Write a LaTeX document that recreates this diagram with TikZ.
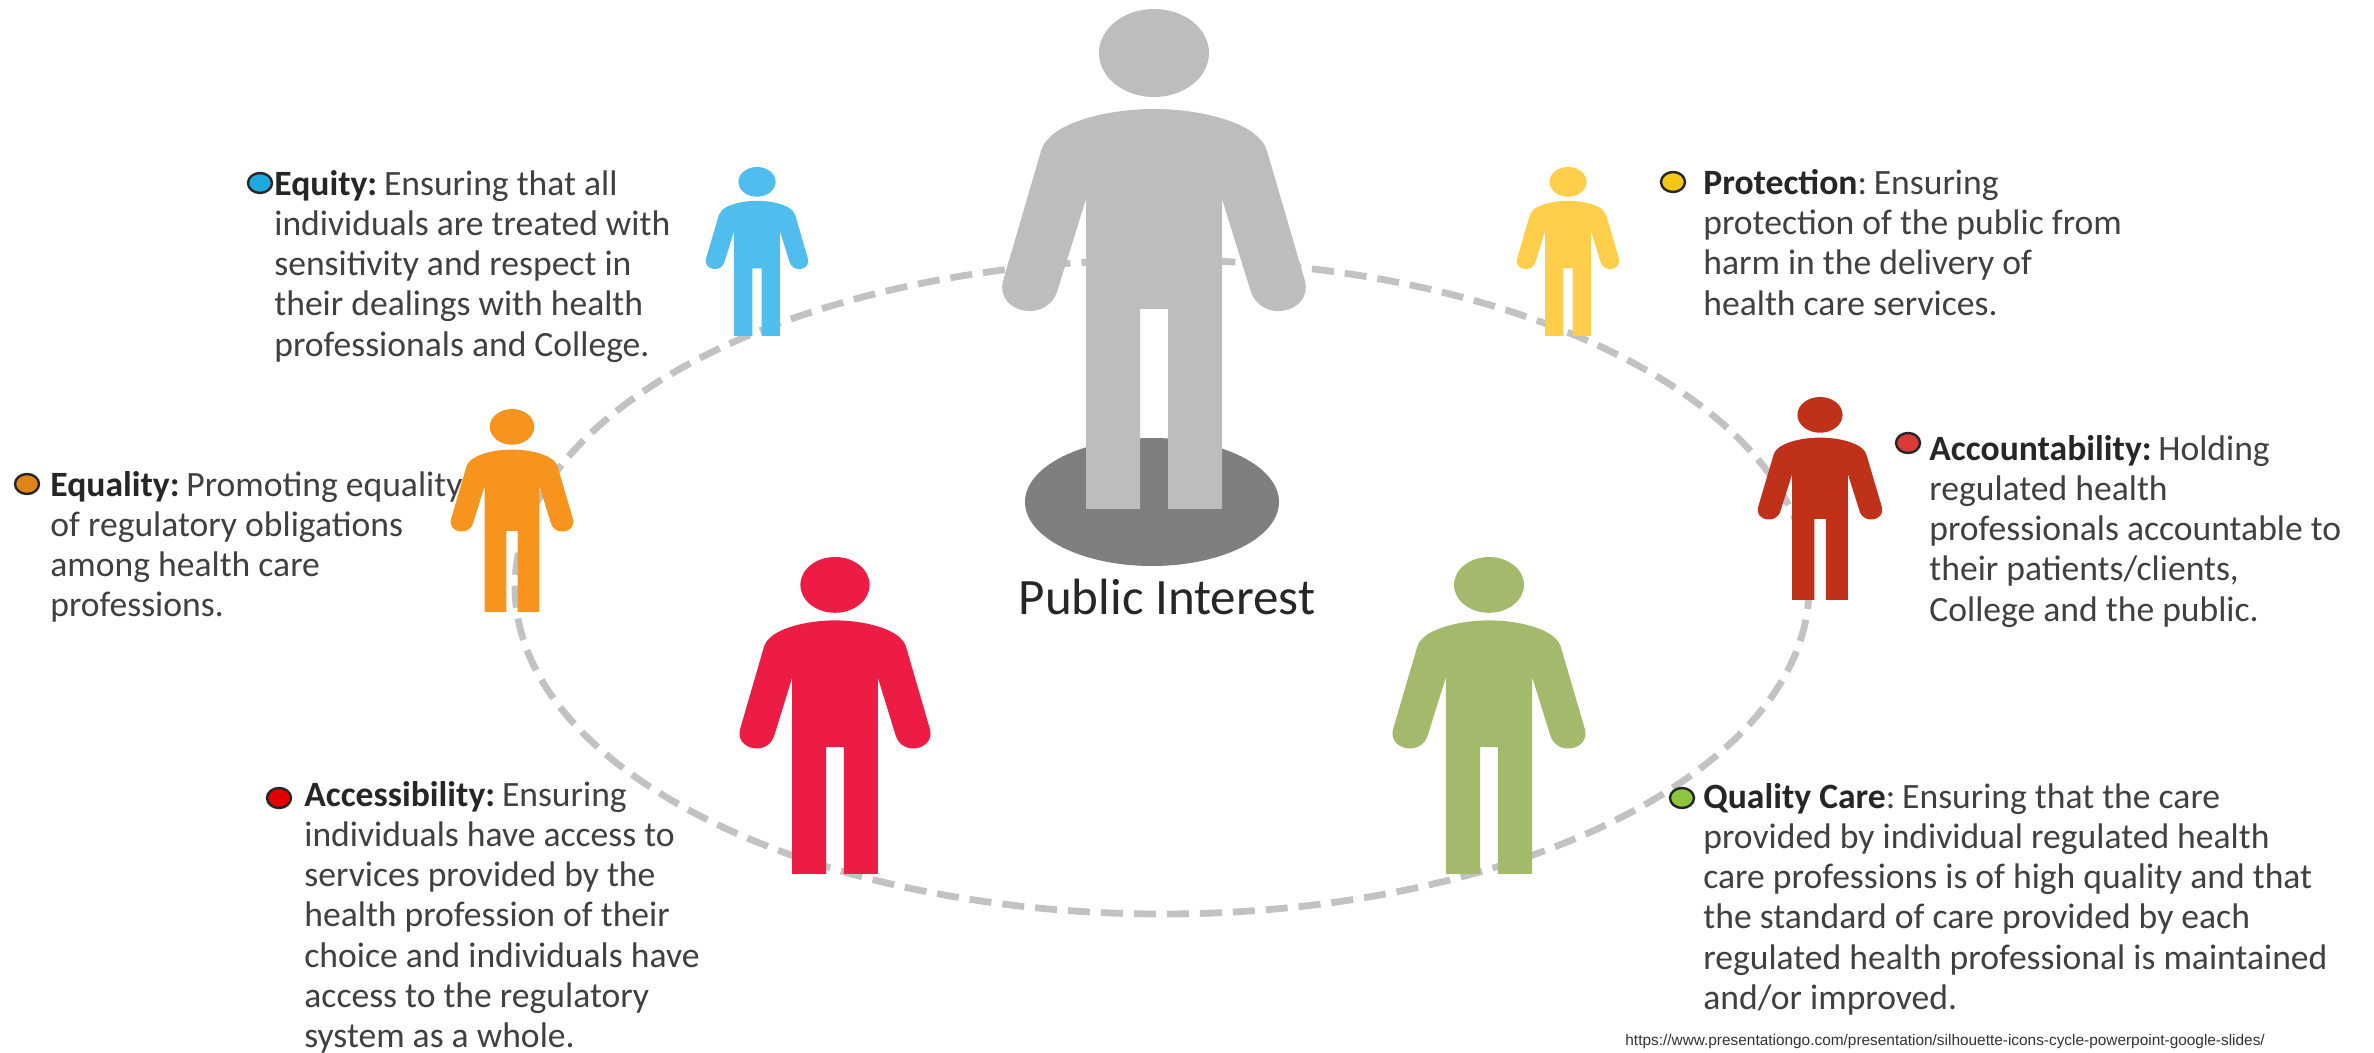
\documentclass[tikz,border=0pt]{standalone}
\usepackage{fontspec}
\usetikzlibrary{shapes.geometric}
\setmainfont{Carlito}
\newfontfamily\urlfont{Liberation Sans}
\definecolor{pgray}{HTML}{BDBDBD}
\definecolor{discgray}{HTML}{7F7F7F}
\definecolor{dashgray}{HTML}{C2C2C2}
\definecolor{pblue}{HTML}{4FBDEE}
\definecolor{pyellow}{HTML}{FFCF4B}
\definecolor{porange}{HTML}{F7941D}
\definecolor{pbrick}{HTML}{C0311A}
\definecolor{pcrimson}{HTML}{ED1C45}
\definecolor{pgreen}{HTML}{A3B96B}
\definecolor{txtgray}{HTML}{404040}
\definecolor{dotblue}{HTML}{1BA9E0}
\definecolor{dotbrick}{HTML}{D93A3A}
\definecolor{dotgreen}{HTML}{8CC63F}
\definecolor{dotyellow}{HTML}{F5C518}
\tikzset{
  bodytext/.style={anchor=north west,inner sep=0pt,align=left,text=txtgray,
    font=\fontsize{17.8}{20.1}\selectfont},
  bulletdot/.style={ellipse,draw=black!85,line width=1.2pt,minimum width=12pt,minimum height=10pt,inner sep=0pt},
}
\newcommand{\hd}[1]{{\bfseries\color{black!85}#1}}
\newcommand{\tightsp}{\hspace{-.11em}}
% cx, top, bottom, half width, colour
\newcommand{\person}[5]{%
  \begin{scope}[shift={(#1,#2)},xscale={#4/151},yscale={(#3-#2)/500}]
    \fill[#5] (0,44) ellipse [x radius=55,y radius=44];
    \fill[#5] (0,100) .. controls (-45,100) and (-88,112) .. (-104,128)
      .. controls (-109,133) and (-111,136) .. (-113,142)
      -- (-151,272) .. controls (-159,304) and (-106,316) .. (-96,280)
      -- (-68,190) -- (-68,500) -- (-14,500) -- (-14,300) -- (14,300) -- (14,500) -- (68,500)
      -- (68,190) -- (96,280) .. controls (106,316) and (159,304) .. (151,272)
      -- (113,142) .. controls (111,136) and (109,133) .. (104,128)
      .. controls (88,112) and (45,100) .. (0,100) -- cycle;
  \end{scope}}
\begin{document}
\begin{tikzpicture}[x=0.5pt,y=-0.5pt]
\useasboundingbox (0,0) rectangle (2374,1053);
\fill[white] (0,0) rectangle (2374,1053);
% ring
\draw[dashgray,line width=3.4pt,dash pattern=on 11pt off 5.5pt] (1162,587) ellipse [x radius=647,y radius=327];
% centre
\fill[discgray] (1152,502) ellipse [x radius=127,y radius=64];
\person{1154}{9}{509}{151}{pgray}
% others
\person{757}{167}{336}{51}{pblue}
\person{1568}{167}{336}{51}{pyellow}
\person{512}{409}{612}{61}{porange}
\person{1820}{397}{600}{62}{pbrick}
\person{835}{557}{874}{95}{pcrimson}
\person{1489}{557}{874}{96}{pgreen}
% labels
\node[anchor=center,inner sep=0pt,text=black!85,font=\fontsize{25.5}{28}\selectfont] (pi) at (1167,597) {Public Interest};
\node[bulletdot,fill=dotblue] (b1) at (260,183) {};
\node[bodytext] (t1) at (274,170) {\hd{Equity:}\tightsp{} Ensuring that all\\individuals are treated with\\sensitivity and respect in\\their dealings with health\\professionals and College.};
\node[bulletdot,fill=porange!90!black] (b2) at (27,484) {};
\node[bodytext] (t2) at (50,471) {\hd{Equality:}\tightsp{} Promoting equality\\of regulatory obligations\\among health care\\professions.};
\node[bulletdot,fill=red!90!black] (b3) at (279,798) {};
\node[bodytext] (t3) at (304,781) {\hd{Accessibility:}\tightsp{} Ensuring\\individuals have access to\\services provided by the\\health profession of their\\choice and individuals have\\access to the regulatory\\system as a whole.};
\node[bulletdot,fill=dotyellow] (b4) at (1673,182) {};
\node[bodytext] (t4) at (1703,169) {\hd{Protection}:\tightsp{} Ensuring\\protection of the public from\\harm in the delivery of\\health care services.};
\node[bulletdot,fill=dotbrick] (b5) at (1908,443) {};
\node[bodytext] (t5) at (1929,435) {\hd{Accountability:}\tightsp{} Holding\\regulated health\\professionals accountable to\\their patients/clients,\\College and the public.};
\node[bulletdot,fill=dotgreen] (b6) at (1682,798) {};
\node[bodytext] (t6) at (1703,783) {\hd{Quality Care}:\tightsp{} Ensuring that the care\\provided by individual regulated health\\care professions is of high quality and that\\the standard of care provided by each\\regulated health professional is maintained\\and/or improved.};
\node[anchor=north west,inner sep=0pt,text=black!80,font=\urlfont\fontsize{7.7}{9}\selectfont] (src) at (1625,1034) {https://www.presentationgo.com/presentation/silhouette-icons-cycle-powerpoint-google-slides/};
\end{tikzpicture}
\end{document}
